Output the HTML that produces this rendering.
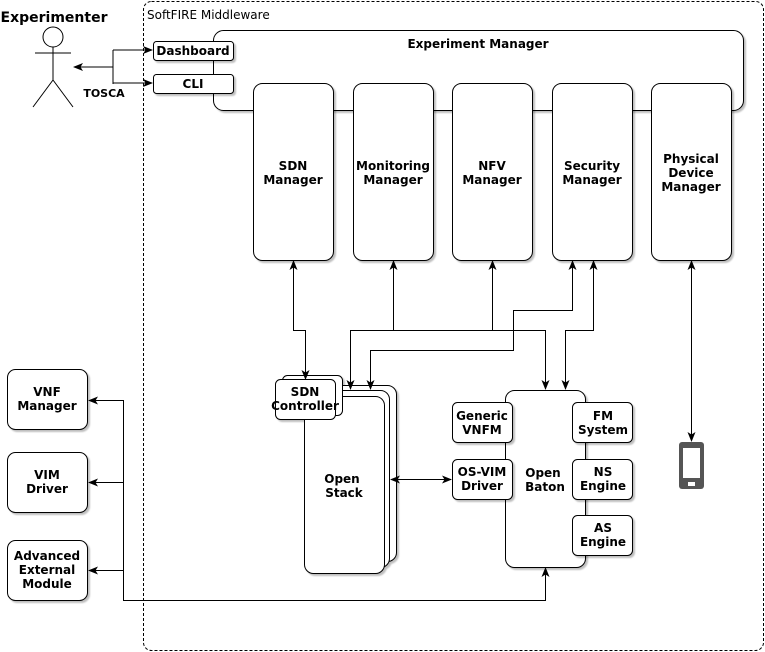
<!DOCTYPE html>
<html><head><meta charset="utf-8"><style>
html,body{margin:0;padding:0;background:#fff;}
svg{display:block;font-family:"DejaVu Sans","Liberation Sans",sans-serif;}
text{font-weight:bold;font-size:12px;text-anchor:middle;fill:#000;}
.b{fill:#fff;stroke:#000;stroke-width:1;}
.l{fill:none;stroke:#000;stroke-width:1;}
</style></head><body>
<svg width="765" height="652" viewBox="0 0 765 652" xmlns="http://www.w3.org/2000/svg">
<defs>
<filter id="s" x="-10%" y="-10%" width="130%" height="130%"><feDropShadow dx="2" dy="2" stdDeviation="0.8" flood-color="#000" flood-opacity="0.25"/></filter>
<marker id="a" markerWidth="10" markerHeight="10" refX="9" refY="5" orient="auto" markerUnits="userSpaceOnUse"><path d="M0,1 L10,5 L0,9 L2.5,5z" fill="#000"/></marker>
<marker id="as" markerWidth="10" markerHeight="10" refX="1" refY="5" orient="auto" markerUnits="userSpaceOnUse"><path d="M10,1 L0,5 L10,9 L7.5,5z" fill="#000"/></marker>
</defs>
<rect x="143.5" y="1.5" width="620" height="649" rx="8" fill="none" stroke="#000" stroke-dasharray="3,2"/>
<text x="147" y="19" style="font-weight:normal;font-size:12px;text-anchor:start">SoftFIRE Middleware</text>

<!-- actor -->
<text x="54" y="22" style="font-size:14px">Experimenter</text>
<circle cx="53" cy="37" r="10" class="b"/>
<path class="l" d="M53,47V80M35,53H71M53,80L33,107M53,80L73,107"/>
<path class="l" d="M113,67H74" marker-end="url(#a)"/>
<path class="l" d="M113,50V84"/>
<path class="l" d="M113,50H152" marker-end="url(#a)"/>
<path class="l" d="M113,83H152" marker-end="url(#a)"/>
<text x="104" y="97" style="font-size:11px">TOSCA</text>

<!-- experiment manager -->
<rect x="213.5" y="30.5" width="530" height="80" rx="10" class="b" filter="url(#s)"/>
<text x="478" y="48" style="font-size:12px">Experiment Manager</text>
<rect x="153.5" y="41.5" width="80" height="19" rx="3" class="b" filter="url(#s)"/>
<text x="193" y="55">Dashboard</text>
<rect x="153.5" y="74.5" width="80" height="19" rx="3" class="b" filter="url(#s)"/>
<text x="193" y="88">CLI</text>

<!-- managers -->
<g filter="url(#s)">
<rect x="253.5" y="83.5" width="80" height="177" rx="9" class="b"/>
<rect x="353.5" y="83.5" width="80" height="177" rx="9" class="b"/>
<rect x="452.5" y="83.5" width="80" height="177" rx="9" class="b"/>
<rect x="552.5" y="83.5" width="80" height="177" rx="9" class="b"/>
<rect x="651.5" y="83.5" width="80" height="177" rx="9" class="b"/>
</g>
<text x="293" y="170">SDN</text><text x="293" y="184">Manager</text>
<text x="393" y="170">Monitoring</text><text x="393" y="184">Manager</text>
<text x="492" y="170">NFV</text><text x="492" y="184">Manager</text>
<text x="592" y="170">Security</text><text x="592" y="184">Manager</text>
<text x="691" y="163">Physical</text><text x="691" y="177">Device</text><text x="691" y="191">Manager</text>

<!-- openstack -->
<g filter="url(#s)">
<rect x="314.5" y="385.5" width="82" height="176" rx="9" class="b"/>
<rect x="309.5" y="390.5" width="80" height="177" rx="9" class="b"/>
<rect x="304.5" y="396.5" width="80" height="177" rx="9" class="b"/>
<rect x="282.5" y="375.5" width="60" height="40" rx="5" class="b"/>
<rect x="275.5" y="379.5" width="60" height="40" rx="5" class="b"/>
</g>
<text x="342" y="483">Open</text><text x="344" y="497">Stack</text>
<text x="305" y="396">SDN</text><text x="305" y="410">Controller</text>

<!-- open baton -->
<rect x="505.5" y="390.5" width="80" height="177" rx="9" class="b" filter="url(#s)"/>
<text x="543" y="477">Open</text><text x="545" y="491">Baton</text>
<g filter="url(#s)">
<rect x="452.5" y="402.5" width="60" height="40" rx="5" class="b"/>
<rect x="452.5" y="459.5" width="60" height="40" rx="5" class="b"/>
<rect x="572.5" y="402.5" width="60" height="40" rx="5" class="b"/>
<rect x="572.5" y="459.5" width="60" height="40" rx="5" class="b"/>
<rect x="572.5" y="515.5" width="60" height="40" rx="5" class="b"/>
</g>
<text x="482" y="420">Generic</text><text x="482" y="434">VNFM</text>
<text x="482" y="476">OS-VIM</text><text x="482" y="490">Driver</text>
<text x="603" y="420">FM</text><text x="603" y="434">System</text>
<text x="603" y="476">NS</text><text x="603" y="490">Engine</text>
<text x="603" y="532">AS</text><text x="603" y="546">Engine</text>

<!-- left boxes -->
<g filter="url(#s)">
<rect x="7.5" y="369.5" width="80" height="60" rx="8" class="b"/>
<rect x="7.5" y="452.5" width="80" height="60" rx="8" class="b"/>
<rect x="7.5" y="540.5" width="80" height="60" rx="8" class="b"/>
</g>
<text x="47" y="396">VNF</text><text x="47" y="410">Manager</text>
<text x="47" y="479">VIM</text><text x="47" y="493">Driver</text>
<text x="47" y="560">Advanced</text><text x="47" y="574">External</text><text x="47" y="588">Module</text>

<!-- connectors -->
<path class="l" d="M293.5,261V330.5H305.5V379" marker-start="url(#as)" marker-end="url(#a)"/>
<path class="l" d="M393.5,261V330.5" marker-start="url(#as)"/>
<path class="l" d="M492.5,261V330.5" marker-start="url(#as)"/>
<path class="l" d="M545.5,330.5H350.5V389" marker-end="url(#a)"/>
<path class="l" d="M350.5,330.5H545.5V389" marker-end="url(#a)"/>
<path class="l" d="M572.5,261V310.5H513.5V350.5H370.5V389" marker-start="url(#as)" marker-end="url(#a)"/>
<path class="l" d="M593.5,261V330.5H565.5V389" marker-start="url(#as)" marker-end="url(#a)"/>
<path class="l" d="M691.5,261V441" marker-start="url(#as)" marker-end="url(#a)"/>
<path class="l" d="M391,479.5H451" marker-start="url(#as)" marker-end="url(#a)"/>
<path class="l" d="M545.5,568V600.5H123.5V400.5H89" marker-start="url(#as)" marker-end="url(#a)"/>
<path class="l" d="M123.5,482.5H89" marker-end="url(#a)"/>
<path class="l" d="M123.5,570.5H89" marker-end="url(#a)"/>

<!-- phone -->
<rect x="679" y="442" width="25" height="47" rx="3" fill="#555"/>
<rect x="683" y="448" width="17" height="30" fill="#fff"/>
<rect x="688" y="482" width="7" height="4" fill="#fff"/>
</svg>
</body></html>
